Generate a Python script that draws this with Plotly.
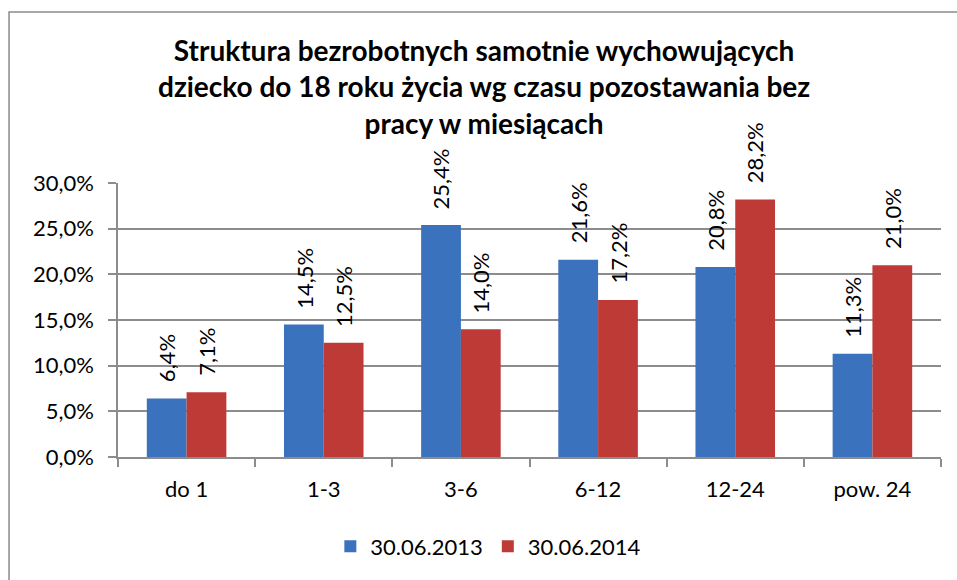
import plotly.graph_objects as go

categories = ["do 1", "1-3", "3-6", "6-12", "12-24", "pow. 24"]
series_2013 = [6.4, 14.5, 25.4, 21.6, 20.8, 11.3]
series_2014 = [7.1, 12.5, 14.0, 17.2, 28.2, 21.0]
series_names = ["30.06.2013", "30.06.2014"]
y_ticks = [0, 5, 10, 15, 20, 25, 30]

title_text = ("Struktura bezrobotnych samotnie wychowujących<br>"
              "dziecko do 18 roku życia wg czasu pozostawania bez<br>"
              "pracy w miesiącach")

FONT = "Lato, Open Sans, sans-serif"
BLUE = "#3A72BD"
RED = "#BE3A36"
GRID = "#8C8C8C"

def pct(v):
    return f"{v:.1f}".replace(".", ",") + "%"

fig = go.Figure()
for name, vals, col in [(series_names[0], series_2013, BLUE),
                        (series_names[1], series_2014, RED)]:
    fig.add_trace(go.Bar(
        x=categories, y=vals, name=name,
        marker=dict(color=col, line=dict(width=0)),
    ))

# rotated value labels above each bar
for vals, shift in [(series_2013, -20), (series_2014, 20)]:
    for c, v in zip(categories, vals):
        fig.add_annotation(
            x=c, y=v, text=pct(v), textangle=-90, showarrow=False,
            xshift=shift, yshift=14, yanchor="bottom", xanchor="center",
            font=dict(family=FONT, size=22, color="#000000"),
        )

# chart title
fig.add_annotation(
    text=title_text, xref="paper", yref="paper", x=0.445, y=1.555,
    xanchor="center", yanchor="top", showarrow=False, align="center",
    font=dict(family=FONT, size=28, color="#000000", weight="bold"),
)

# outer chart frame
fig.add_shape(type="rect", xref="paper", yref="paper",
              x0=-0.1324, x1=1.2, y0=-0.6, y1=1.624,
              line=dict(color="#8A8A8A", width=1.5), fillcolor="rgba(0,0,0,0)",
              layer="below")

fig.update_layout(
    width=957, height=580,
    margin=dict(l=118, r=16, t=183, b=123),
    paper_bgcolor="white", plot_bgcolor="white",
    barmode="group", bargap=0.42, bargroupgap=0.0,
    font=dict(family=FONT, size=22, color="#000000"),
    showlegend=True,
    legend=dict(orientation="h", x=0.45, xanchor="center", y=-0.25, yanchor="top",
                font=dict(family=FONT, size=22, color="#000000"),
                itemwidth=30, tracegroupgap=0),
)
fig.update_yaxes(range=[0, 30], tickvals=y_ticks,
                 ticktext=[pct(t) for t in y_ticks],
                 showgrid=True, gridcolor=GRID, gridwidth=1.5,
                 showline=True, linecolor=GRID, linewidth=1.5,
                 ticks="outside", ticklen=8, tickcolor=GRID, tickwidth=1.5,
                 ticklabelstandoff=10,
                 zeroline=False, tickfont=dict(size=22))
fig.update_xaxes(showline=True, linecolor=GRID, linewidth=1.5,
                 ticks="outside", ticklen=8, tickcolor=GRID, tickwidth=1.5,
                 ticklabelstandoff=12,
                 tickson="boundaries", showgrid=False, tickfont=dict(size=22))

fig.write_html("out.html")
